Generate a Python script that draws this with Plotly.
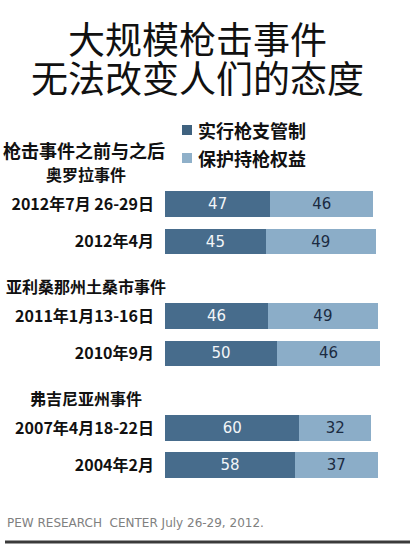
import plotly.graph_objects as go

# Données (Pew Research Center)
groups = ["奥罗拉事件", "亚利桑那州土桑市事件", "弗吉尼亚州事件"]
dates = ["2012年7月 26-29日", "2012年4月", "2011年1月13-16日",
         "2010年9月", "2007年4月18-22日", "2004年2月"]
group_of = [0, 0, 1, 1, 2, 2]
control = [47, 45, 46, 50, 60, 58]   # 实行枪支管制
rights = [46, 49, 49, 46, 32, 37]    # 保护持枪权益
series_names = ["实行枪支管制", "保护持枪权益"]
title_lines = ["大规模枪击事件", "无法改变人们的态度"]

W, H = 415, 550
L, R, T, B = 165, 26, 167, 66
CJK = "Noto Sans CJK SC"
DARK = "#476c8c"
LIGHT = "#8badc8"


def px(x):
    return (x - L) / (W - L - R)


def py(y):
    return (H - B - y) / (H - T - B)


# une ligne vide avant chaque groupe (sauf le premier)
slots = [i + g for i, g in enumerate(group_of)]

fig = go.Figure()
fig.add_trace(go.Bar(
    y=slots, x=control, orientation="h", name=series_names[0],
    marker=dict(color=DARK, line_width=0), width=0.69,
    text=control, textposition="inside", insidetextanchor="middle",
    textfont=dict(family="DejaVu Sans", size=15, color="#f2f5f8"),
))
fig.add_trace(go.Bar(
    y=slots, x=rights, orientation="h", name=series_names[1],
    marker=dict(color=LIGHT, line_width=0), width=0.69,
    text=rights, textposition="inside", insidetextanchor="middle",
    textfont=dict(family="DejaVu Sans", size=15, color="#1b2b42"),
))

annotations = []
# titre : un seul bloc, interligne serré (30 px * 1.3), glyphes en 37 px
title = "<br>".join(f"<span style='font-size:37px'>{t}</span>" for t in title_lines)
annotations.append(dict(text=title, x=px(197.5), y=py(58),
                        font=dict(family=CJK, size=30, color="#111")))
# sous-titre
annotations.append(dict(text="枪击事件之前与之后", x=px(1), y=py(150), xanchor="left",
                        font=dict(family=CJK, size=18, color="#111", weight="bold")))
# légende
for name, yy in zip(series_names, [130, 158]):
    annotations.append(dict(text=name, x=px(196), y=py(yy), xanchor="left",
                            font=dict(family=CJK, size=18, color="#111", weight="bold")))
# titres de groupes
for g, name in enumerate(groups):
    first = slots[group_of.index(g)]
    annotations.append(dict(text=name, x=px(86), y=first - 0.8, yref="y",
                            font=dict(family=CJK, size=16, color="#111", weight="bold")))
# source
annotations.append(dict(text="PEW RESEARCH  CENTER July 26-29, 2012.", x=px(5), y=py(523),
                        xanchor="left",
                        font=dict(family="DejaVu Sans", size=12, color="#808080")))

for a in annotations:
    a.setdefault("xref", "paper")
    a.setdefault("yref", "paper")
    a.setdefault("xanchor", "center")
    a["yanchor"] = "middle"
    a["showarrow"] = False

shapes = [
    dict(type="rect", xref="paper", yref="paper", x0=px(182), x1=px(192),
         y0=py(125), y1=py(135), fillcolor="#3f627f", line_width=0),
    dict(type="rect", xref="paper", yref="paper", x0=px(182), x1=px(192),
         y0=py(153), y1=py(163), fillcolor="#8fb0c9", line_width=0),
    dict(type="line", xref="paper", yref="paper", x0=px(5), x1=px(410),
         y0=py(542), y1=py(542), line=dict(color="#3a3a3a", width=3)),
]

fig.update_layout(
    width=W, height=H,
    margin=dict(l=L, r=R, t=T, b=B),
    barmode="stack",
    showlegend=False,
    plot_bgcolor="white", paper_bgcolor="white",
    xaxis=dict(range=[0, 100], visible=False),
    yaxis=dict(range=[7.5, -1.0], tickvals=slots, ticktext=dates,
               showgrid=False, zeroline=False, showline=False, ticks="",
               ticklabelstandoff=10,
               tickfont=dict(family=CJK, size=16, color="#111", weight="bold")),
    annotations=annotations,
    shapes=shapes,
)

# pas de marge de page autour du graphique
fig.write_html("out.html", config={"displayModeBar": False},
               post_script="document.body.style.margin='0';")
